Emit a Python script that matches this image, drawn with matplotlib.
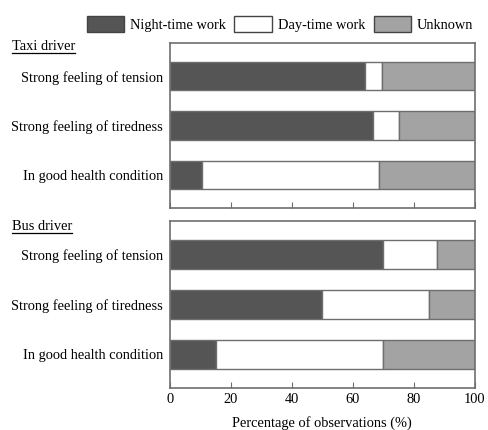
import matplotlib
matplotlib.use("Agg")
import matplotlib.pyplot as plt
from matplotlib.patches import Patch
from matplotlib.lines import Line2D

plt.rcParams['font.family'] = ['Liberation Serif', 'DejaVu Serif']
plt.rcParams['font.size'] = 10.4

# data (percent of observations)
conditions = ['Strong feeling of tension', 'Strong feeling of tiredness', 'In good health condition']
series = ['Night-time work', 'Day-time work', 'Unknown']

taxi_night = [64, 66.5, 10.5]
taxi_day = [5.5, 8.5, 58]
taxi_unknown = [30.5, 25, 31.5]

bus_night = [70, 50, 15]
bus_day = [17.5, 35, 55]
bus_unknown = [12.5, 15, 30]

groups = ['Taxi driver', 'Bus driver']

colors = ['#555555', '#ffffff', '#a3a3a3']
edge = '#6e6e6e'

fig = plt.figure(figsize=(4.88, 4.30), dpi=100)
ax1 = fig.add_axes([0.348, 0.516, 0.625, 0.384])
ax2 = fig.add_axes([0.348, 0.098, 0.625, 0.388])


def draw(ax, night, day, unknown):
    y = list(range(len(conditions)))
    left = [0] * len(y)
    for vals, c in zip([night, day, unknown], colors):
        ax.barh(y, vals, left=left, height=0.57, color=c, edgecolor=edge, linewidth=1)
        left = [l + v for l, v in zip(left, vals)]
    ax.set_xlim(0, 100)
    ax.set_ylim(2.67, -0.67)
    ax.set_yticks(y)
    ax.set_yticklabels(conditions)
    ax.tick_params(axis='y', length=0, pad=5)
    ax.set_xticks([0, 20, 40, 60, 80, 100])
    ax.tick_params(axis='x', direction='in', length=4, color=edge, pad=4)
    for s in ax.spines.values():
        s.set_color(edge)
        s.set_linewidth(1.2)


draw(ax1, taxi_night, taxi_day, taxi_unknown)
draw(ax2, bus_night, bus_day, bus_unknown)
ax1.set_xticklabels([])
ax2.set_xlabel('Percentage of observations (%)', labelpad=7)

titles = []
for name, ypos in zip(groups, [1 - 47 / 430, 1 - 227 / 430]):
    titles.append(fig.text(12 / 488, ypos, name, va='center', ha='left'))

handles = [Patch(facecolor=c, edgecolor='#444444', linewidth=1) for c in colors]
fig.legend(handles, series, loc='center', bbox_to_anchor=(280 / 488, 1 - 24 / 430), ncol=3,
           frameon=False, handlelength=2.6, handleheight=1.4, handletextpad=0.4,
           columnspacing=0.6, borderaxespad=0)

# underline the group titles
fig.canvas.draw()
inv = fig.transFigure.inverted()
for t in titles:
    bb = t.get_window_extent()
    (x0, y0), (x1, y1) = inv.transform([(bb.x0, bb.y0), (bb.x1, bb.y1)])
    fig.add_artist(Line2D([x0, x1], [y0 + 0.5 / 430, y0 + 0.5 / 430], color='black', lw=0.9,
                          transform=fig.transFigure))

fig.savefig('out.png', dpi=100)
